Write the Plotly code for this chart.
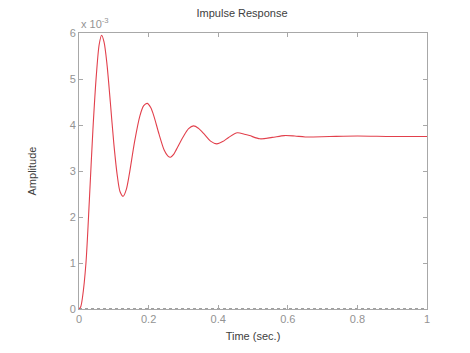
import plotly.graph_objects as go

# Time (s) and amplitude (x 1e-3)
time_s = [0.0, 0.005, 0.01, 0.02, 0.03, 0.04, 0.05, 0.058, 0.065, 0.072, 0.08, 0.09, 0.10, 0.11,
          0.118, 0.127, 0.136, 0.145, 0.16, 0.175, 0.186, 0.196, 0.206, 0.215, 0.23, 0.245,
          0.255, 0.263, 0.272, 0.28, 0.30, 0.315, 0.329, 0.343, 0.36, 0.378, 0.396, 0.413,
          0.43, 0.455, 0.475, 0.49, 0.52, 0.555, 0.59, 0.62, 0.65, 0.72, 0.8, 0.9, 1.0]
amplitude = [0.0, 0.05, 0.25, 1.0, 2.4, 3.9, 5.1, 5.75, 5.95, 5.8, 5.35, 4.5, 3.6, 2.9,
             2.55, 2.45, 2.6, 2.95, 3.65, 4.2, 4.42, 4.47, 4.38, 4.2, 3.8, 3.45,
             3.33, 3.30, 3.36, 3.47, 3.75, 3.92, 3.98, 3.93, 3.80, 3.65, 3.59, 3.64,
             3.73, 3.83, 3.80, 3.77, 3.70, 3.73, 3.77, 3.76, 3.74, 3.75, 3.76, 3.75, 3.75]
x_ticks = [0, 0.2, 0.4, 0.6, 0.8, 1]
y_ticks = [0, 1, 2, 3, 4, 5, 6]

fig = go.Figure()
fig.add_trace(go.Scatter(x=[0, 1], y=[0, 0], mode="lines",
                         line=dict(color="#404040", width=1, dash="dot"),
                         hoverinfo="skip", showlegend=False))
fig.add_trace(go.Scatter(x=time_s, y=amplitude, mode="lines",
                         line=dict(color="#e2404c", width=1.1, shape="spline", smoothing=0.8),
                         showlegend=False))

axis_common = dict(showline=True, linecolor="#a8a8a8", linewidth=1, mirror="allticks",
                   ticks="inside", ticklen=4, tickcolor="#a8a8a8", showgrid=False,
                   zeroline=False, tickfont=dict(color="#939393", size=11))

fig.update_layout(
    width=470, height=353,
    margin=dict(l=79, r=43, t=33, b=42),
    paper_bgcolor="white", plot_bgcolor="white",
    font=dict(family="Liberation Sans, Arial, sans-serif", size=11, color="#404040"),
    title=dict(text="Impulse Response", x=0.515, xanchor="center", y=0.962, yanchor="middle",
               font=dict(size=11, color="#404040")),
    xaxis=dict(range=[0, 1], tickvals=x_ticks, ticktext=[str(v) for v in x_ticks],
               title=dict(text="Time (sec.)", standoff=8, font=dict(size=11, color="#404040")),
               **axis_common),
    yaxis=dict(range=[0, 6], tickvals=y_ticks, ticktext=[str(v) for v in y_ticks],
               title=dict(text="Amplitude", standoff=30, font=dict(size=11, color="#404040")),
               **axis_common),
)
fig.add_annotation(x=0, y=1, xref="paper", yref="paper", xanchor="left", yanchor="bottom",
                   text="x 10<sup>-3</sup>", showarrow=False, yshift=1,
                   font=dict(size=11, color="#939393"))

fig.write_html("out.html")
